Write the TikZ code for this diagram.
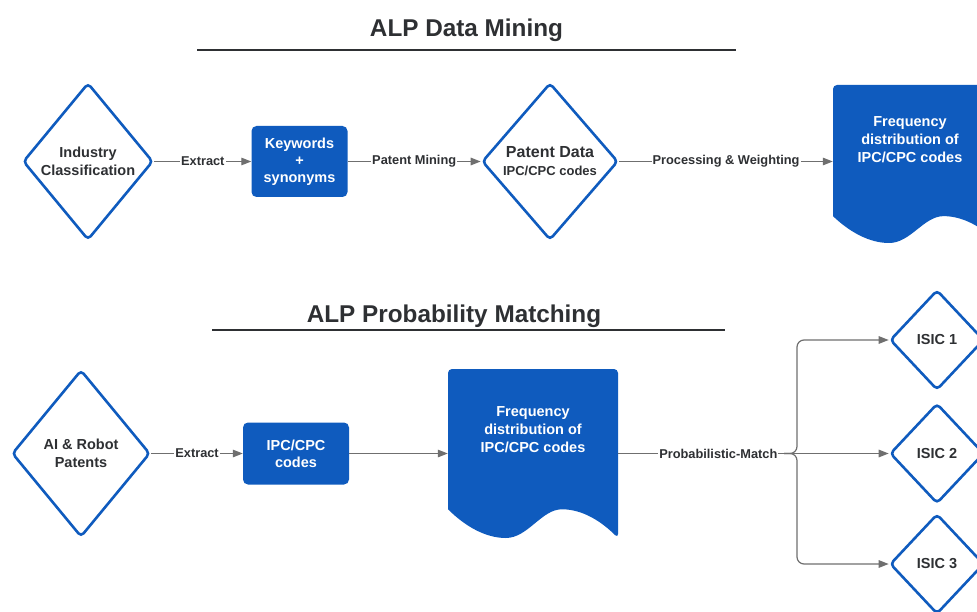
\documentclass[tikz,border=0pt]{standalone}
\usepackage{fontspec}
\setmainfont{Liberation Sans}
\usetikzlibrary{shapes.geometric,arrows.meta,calc}
\definecolor{blu}{HTML}{0F5BBE}
\definecolor{txt}{HTML}{2E3033}
\definecolor{arr}{HTML}{6F6F6F}
\newcommand\mydocshape[4]{%
  \begin{scope}[shift={(#1,#2)}]
    \fill[blu, rounded corners=4pt] (0,{.83*#4}) -- (0,0) -- (#3,0) -- (#3,#4) [sharp corners]
      .. controls ({.9*#3},{.9*#4}) and ({.79*#3},{.83*#4}) .. ({.67*#3},{.83*#4})
      .. controls ({.55*#3},{.83*#4}) and ({.47*#3},#4) .. ({.34*#3},#4)
      .. controls ({.22*#3},#4) and ({.1*#3},{.93*#4}) .. (0,{.83*#4}) -- cycle;
  \end{scope}}
\begin{document}
\begin{tikzpicture}[x=1pt,y=-1pt,
  dia/.style={diamond, draw=blu, line width=2.6pt, fill=white, rounded corners=4pt, inner sep=0pt,
    align=center, font=\bfseries\fontsize{14.5}{18}\selectfont, text=txt},
  bbox/.style={rectangle, fill=blu, rounded corners=5pt, align=center, text=white,
    font=\bfseries\fontsize{14.5}{17}\selectfont, inner sep=0pt},
  conn/.style={draw=arr, line width=1.2pt, -{Triangle[length=10pt,width=7.5pt]}},
  lbl/.style={fill=white, text=txt, font=\bfseries\fontsize{12.8}{14}\selectfont, inner sep=1pt},
  ttl/.style={text=txt, font=\bfseries\fontsize{24.3}{28}\selectfont, inner sep=0pt},
  rule/.style={draw=txt, line width=1.4pt},
  docbox/.style={rectangle, inner sep=0pt, draw=none},
  doctext/.style={text=white, align=center, font=\bfseries\fontsize{14.5}{18}\selectfont, inner sep=0pt}
]
\clip (0,0) rectangle (977,612);
\fill[white] (0,0) rectangle (977,612);

% ---------- Titles ----------
\node[ttl, anchor=base] (t1) at (466.5,37) {ALP Data Mining};
\coordinate (r1a) at (197,50); \coordinate (r1b) at (736,50);
\draw[rule] (r1a) -- (r1b);
\node[ttl, anchor=base] (t2) at (454,322.5) {ALP Probability Matching};
\coordinate (r2a) at (212,330); \coordinate (r2b) at (725,330);
\draw[rule] (r2a) -- (r2b);

% ---------- Top row ----------
\node[dia, minimum width=130pt, minimum height=157pt] (ic) at (88,161.5) {Industry\\Classification};
\node[bbox, minimum width=96pt, minimum height=71pt] (kw) at (299.5,161.5) {Keywords\\+\\synonyms};
\node[dia, minimum width=136pt, minimum height=157pt] (pd) at (550,161.5)
  {{\fontsize{16}{18}\selectfont Patent Data}\\{\fontsize{13}{15}\selectfont IPC/CPC codes}};
\mydocshape{833}{85}{165}{158}
\node[docbox, minimum width=165pt, minimum height=158pt] (doc1) at (915.5,164) {};
\node[doctext] (doc1t) at (910,139.5) {Frequency\\distribution of\\IPC/CPC codes};

\draw[conn] (ic) -- node[lbl]{Extract} (kw);
\draw[conn] (kw) -- node[lbl]{Patent Mining} (pd);
\draw[conn] (pd.east) -- node[lbl]{Processing \& Weighting} (pd.east -| doc1.west);

% ---------- Bottom row ----------
\node[dia, minimum width=138pt, minimum height=167pt] (ai) at (81,453.5) {AI \& Robot\\Patents};
\node[bbox, minimum width=106pt, minimum height=62pt] (ipc) at (296,453.5) {IPC/CPC\\codes};
\mydocshape{448}{369}{170}{169}
\node[docbox, minimum width=170pt, minimum height=169pt] (doc2) at (533,453.5) {};
\node[doctext] (doc2t) at (533,430) {Frequency\\distribution of\\IPC/CPC codes};

\node[dia, minimum width=94pt, minimum height=100pt] (s1) at (937,340) {ISIC 1};
\node[dia, minimum width=94pt, minimum height=100pt] (s2) at (937,453.5) {ISIC 2};
\node[dia, minimum width=94pt, minimum height=100pt] (s3) at (937,564) {ISIC 3};

\draw[conn] (ai) -- node[lbl]{Extract} (ipc);
\draw[conn] (ipc) -- (doc2);
\draw[conn] (doc2.east) -- node[lbl, pos=0.37]{Probabilistic-Match} (s2);
\coordinate (j) at (784,453.5);
\coordinate (b) at (797,453.5);
\draw[conn, rounded corners=7pt] (j) -- (b) |- (s1.west);
\draw[conn, rounded corners=7pt] (j) -- (b) |- (s3.west);
\end{tikzpicture}
\end{document}
